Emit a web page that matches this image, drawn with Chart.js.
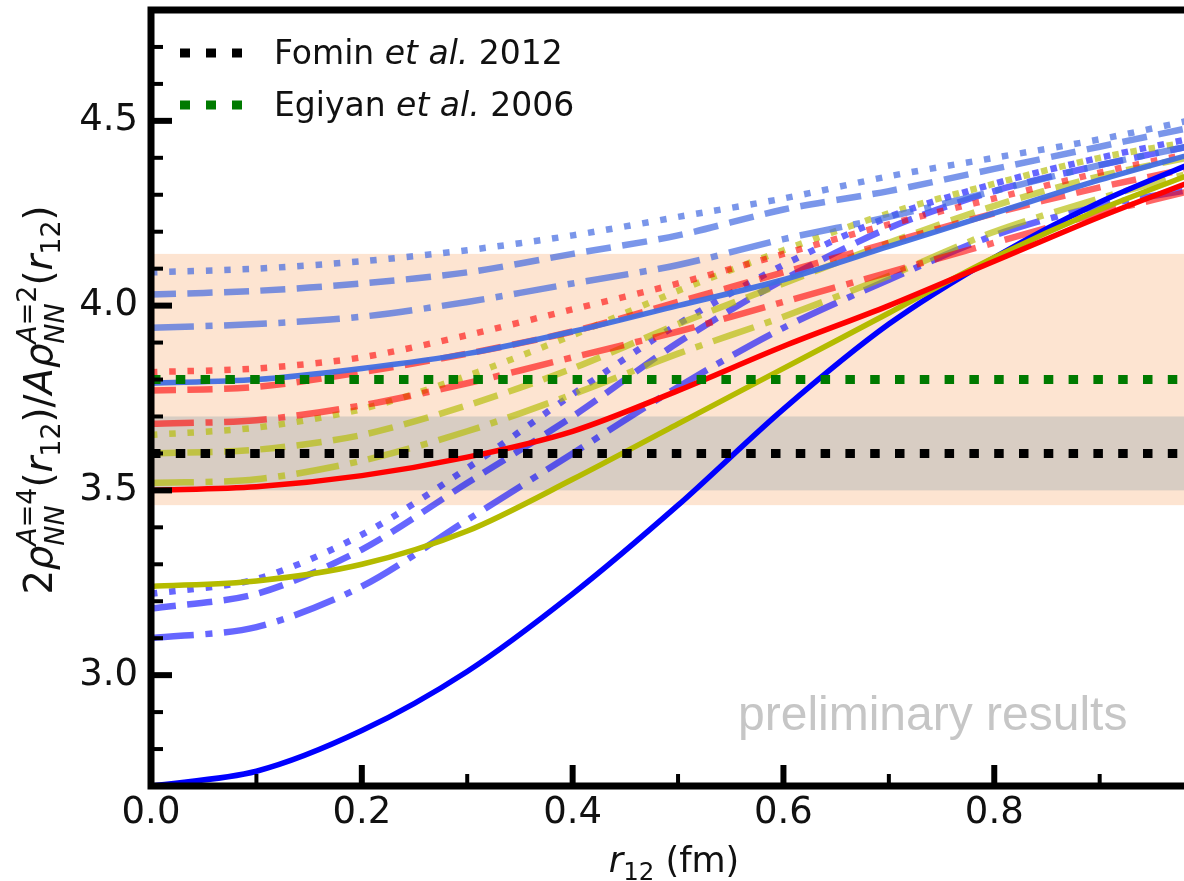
<!DOCTYPE html>
<html>
<head>
<meta charset="utf-8">
<script src="https://cdn.jsdelivr.net/npm/chart.js@4.4.0/dist/chart.umd.min.js"></script>
<style>
  html, body { margin: 0; padding: 0; background: #fff; overflow: hidden; }
  #wrap { width: 1184px; height: 881px; }
</style>
</head>
<body>
<div id="wrap"><canvas id="c" width="1184" height="881"></canvas></div>
<script>
// r12 (fm)
const r12 = [0.0, 0.1, 0.2, 0.3, 0.4, 0.5, 0.6, 0.7, 0.8, 0.9, 1.0];

// light royal blue family
const royalDotted  = [4.09, 4.10, 4.12, 4.15, 4.19, 4.24, 4.29, 4.35, 4.40, 4.45, 4.51];
const royalDashed  = [4.03, 4.04, 4.06, 4.09, 4.14, 4.19, 4.26, 4.31, 4.37, 4.43, 4.49];
const royalDashDot = [3.94, 3.95, 3.97, 4.01, 4.06, 4.11, 4.18, 4.24, 4.31, 4.38, 4.44];
const royalSolid   = [3.79, 3.80, 3.83, 3.87, 3.93, 4.00, 4.07, 4.16, 4.25, 4.34, 4.42];
// red family
const redDotted  = [3.82, 3.83, 3.86, 3.92, 3.99, 4.06, 4.14, 4.22, 4.29, 4.36, 4.42];
const redDashed  = [3.77, 3.78, 3.82, 3.87, 3.93, 4.01, 4.09, 4.17, 4.25, 4.32, 4.38];
const redDashDot = [3.68, 3.69, 3.73, 3.79, 3.86, 3.93, 4.01, 4.09, 4.17, 4.25, 4.32];
const redSolid   = [3.50, 3.51, 3.54, 3.59, 3.66, 3.77, 3.89, 4.00, 4.12, 4.24, 4.35];
// olive family
const oliveDotted  = [3.65, 3.67, 3.72, 3.81, 3.92, 4.04, 4.15, 4.25, 4.33, 4.40, 4.45];
const oliveDashed  = [3.60, 3.61, 3.65, 3.73, 3.83, 3.95, 4.06, 4.17, 4.27, 4.35, 4.41];
const oliveDashDot = [3.52, 3.53, 3.58, 3.66, 3.76, 3.87, 3.97, 4.08, 4.20, 4.29, 4.37];
const oliveSolid   = [3.24, 3.255, 3.30, 3.39, 3.53, 3.68, 3.83, 3.98, 4.13, 4.26, 4.37];
// blue family
const blueDotted  = [3.22, 3.26, 3.38, 3.56, 3.76, 3.95, 4.11, 4.24, 4.33, 4.40, 4.46];
const blueDashed  = [3.18, 3.22, 3.34, 3.52, 3.70, 3.90, 4.07, 4.21, 4.31, 4.38, 4.44];
const blueDashDot = [3.10, 3.13, 3.24, 3.42, 3.60, 3.78, 3.94, 4.07, 4.19, 4.27, 4.32];
const blueSolid   = [2.70, 2.74, 2.85, 3.01, 3.22, 3.46, 3.72, 3.95, 4.13, 4.28, 4.40];

// experiments
const fominValue = 3.60, fominBand = [3.50, 3.70];
const egiyanValue = 3.80, egiyanBand = [3.46, 4.14];

const xMajor = [0.0, 0.2, 0.4, 0.6, 0.8];
const xMinor = [0.1, 0.3, 0.5, 0.7, 0.9];
const yMajor = [3.0, 3.5, 4.0, 4.5];
const yMinor = [2.8, 2.9, 3.1, 3.2, 3.3, 3.4, 3.6, 3.7, 3.8, 3.9, 4.1, 4.2, 4.3, 4.4, 4.6, 4.7];

const DOT = [6.5, 11.8], DASH = [25, 11.5], DASHDOT = [43, 11.5, 7, 11.5], EXPDOT = [9.5, 15.3];

const mk = (vals, color, dash, width, order) => ({
  data: r12.map((r, i) => ({ x: r, y: vals[i] })),
  borderColor: color, borderWidth: width, borderDash: dash,
  pointRadius: 0, fill: false, tension: 0.3, order: order
});
const flat = (v, color) => ({
  data: [{ x: r12[0], y: v }, { x: r12[r12.length - 1], y: v }],
  borderColor: color, borderWidth: 9, borderDash: EXPDOT, pointRadius: 0, fill: false, order: 0
});

const ROY = 'rgba(65,105,225,0.7)', RED = 'rgba(255,0,0,0.6)', OLV = 'rgba(180,187,0,0.65)', BLU = 'rgba(0,0,255,0.6)';

const datasets = [
  flat(fominValue, '#000000'),
  flat(egiyanValue, '#007a00'),
  mk(royalDotted, ROY, DOT, 6.5, 2), mk(royalDashed, ROY, DASH, 6.5, 2), mk(royalDashDot, ROY, DASHDOT, 6.5, 2),
  mk(redDotted, RED, DOT, 6.5, 2), mk(redDashed, RED, DASH, 6.5, 2), mk(redDashDot, RED, DASHDOT, 6.5, 2),
  mk(oliveDotted, OLV, DOT, 6.5, 2), mk(oliveDashed, OLV, DASH, 6.5, 2), mk(oliveDashDot, OLV, DASHDOT, 6.5, 2),
  mk(blueDotted, BLU, DOT, 6.5, 2), mk(blueDashed, BLU, DASH, 6.5, 2), mk(blueDashDot, BLU, DASHDOT, 6.5, 2),
  mk(royalSolid, 'rgba(65,110,225,0.95)', [], 5.5, 1),
  mk(redSolid, '#ff0000', [], 5.5, 1),
  mk(oliveSolid, '#b4bb00', [], 5.5, 1),
  mk(blueSolid, '#0000ff', [], 5.5, 1)
];

function drawRich(ctx, segs, size, x0, y0) {
  const font = (it, s) => (it ? 'italic ' : '') + s + 'px "DejaVu Sans"';
  const runW = (runs, s) => runs.reduce((w, r) => { ctx.font = font(r.it, s); return w + ctx.measureText(r.t).width; }, 0);
  const drawRuns = (runs, s, x, y) => { for (const r of runs) { ctx.font = font(r.it, s); ctx.fillText(r.t, x, y); x += ctx.measureText(r.t).width; } };
  const ss = size * 0.7;
  const segW = seg => seg.runs ? runW(seg.runs, size) : Math.max(seg.sup ? runW(seg.sup, ss) : 0, seg.sub ? runW(seg.sub, ss) : 0);
  const total = segs.reduce((w, s) => w + segW(s), 0);
  let x = x0 - total / 2;
  ctx.textAlign = 'left';
  ctx.textBaseline = 'alphabetic';
  for (const seg of segs) {
    if (seg.runs) drawRuns(seg.runs, size, x, y0);
    else {
      if (seg.sup) drawRuns(seg.sup, ss, x, y0 - size * 0.42);
      if (seg.sub) drawRuns(seg.sub, ss, x, y0 + size * (seg.sup ? 0.3 : 0.22));
    }
    x += segW(seg);
  }
}

const yTitle = [
  { runs: [{ t: '2' }, { t: 'ρ', it: 1 }] },
  { sup: [{ t: 'A', it: 1 }, { t: '=4' }], sub: [{ t: 'NN', it: 1 }] },
  { runs: [{ t: '(' }, { t: 'r', it: 1 }] },
  { sub: [{ t: '12' }] },
  { runs: [{ t: ')/' }, { t: 'A', it: 1 }, { t: 'ρ', it: 1 }] },
  { sup: [{ t: 'A', it: 1 }, { t: '=2' }], sub: [{ t: 'NN', it: 1 }] },
  { runs: [{ t: '(' }, { t: 'r', it: 1 }] },
  { sub: [{ t: '12' }] },
  { runs: [{ t: ')' }] }
];
const xTitle = [
  { runs: [{ t: 'r', it: 1 }] },
  { sub: [{ t: '12' }] },
  { runs: [{ t: ' (fm)' }] }
];

const decor = {
  id: 'decor',
  beforeDatasetsDraw(chart) {
    const { ctx, chartArea: a, scales: { x, y } } = chart;
    ctx.save();
    const band = (b, col) => {
      const y1 = y.getPixelForValue(b[1]), y2 = y.getPixelForValue(b[0]);
      ctx.fillStyle = col;
      ctx.fillRect(a.left, y1, a.right - a.left, y2 - y1);
    };
    band(egiyanBand, 'rgb(253,228,209)');
    band(fominBand, 'rgb(216,205,195)');
    ctx.restore();
  },
  afterDatasetsDraw(chart) {
    const { ctx, chartArea: a, scales: { x, y } } = chart;
    ctx.save();
    ctx.strokeStyle = '#000';
    ctx.setLineDash([]);
    // spines
    ctx.lineWidth = 7;
    ctx.beginPath();
    ctx.moveTo(a.left - 3.5, a.top); ctx.lineTo(a.right, a.top);
    ctx.moveTo(a.left, a.top - 3.5); ctx.lineTo(a.left, a.bottom + 3.5);
    ctx.moveTo(a.left - 3.5, a.bottom); ctx.lineTo(a.right, a.bottom);
    ctx.stroke();
    // inward ticks
    const tick = (x1, y1, x2, y2, w) => { ctx.lineWidth = w; ctx.beginPath(); ctx.moveTo(x1, y1); ctx.lineTo(x2, y2); ctx.stroke(); };
    yMajor.forEach(v => { const p = y.getPixelForValue(v); tick(a.left, p, a.left + 21, p, 6); });
    yMinor.forEach(v => { const p = y.getPixelForValue(v); tick(a.left, p, a.left + 12, p, 4); });
    xMajor.forEach(v => { const p = x.getPixelForValue(v); tick(p, a.bottom, p, a.bottom - 21, 6); });
    xMinor.forEach(v => { const p = x.getPixelForValue(v); tick(p, a.bottom, p, a.bottom - 12, 4); });

    // legend
    const legendRow = (col, yy, who, year) => {
      ctx.strokeStyle = col; ctx.lineWidth = 9; ctx.setLineDash([10, 16]);
      ctx.beginPath(); ctx.moveTo(180, yy); ctx.lineTo(243, yy); ctx.stroke();
      ctx.setLineDash([]);
      ctx.fillStyle = '#111'; ctx.textBaseline = 'alphabetic'; ctx.textAlign = 'left';
      let xx = 274;
      [[who + ' ', 0], ['et al.', 1], [' ' + year, 0]].forEach(([t, it]) => {
        ctx.font = (it ? 'italic ' : '') + '33px "DejaVu Sans"';
        ctx.fillText(t, xx, yy + 11);
        xx += ctx.measureText(t).width;
      });
    };
    legendRow('#000000', 53, 'Fomin', '2012');
    legendRow('#007a00', 105, 'Egiyan', '2006');

    // watermark
    ctx.fillStyle = '#c6c6c6';
    ctx.font = '48px "Liberation Sans"';
    ctx.fillText('preliminary results', 738, 730);

    // axis titles
    ctx.fillStyle = '#111';
    drawRich(ctx, xTitle, 35, 674, 872);
    ctx.translate(52, 400);
    ctx.rotate(-Math.PI / 2);
    drawRich(ctx, yTitle, 38.5, 0, 0);
    ctx.restore();
  }
};

new Chart(document.getElementById('c'), {
  type: 'line',
  data: { datasets: datasets },
  options: {
    responsive: false,
    devicePixelRatio: 1,
    animation: false,
    layout: { autoPadding: false, padding: { top: 10, right: 0, left: 0, bottom: 0 } },
    plugins: { legend: { display: false }, tooltip: { enabled: false } },
    scales: {
      x: {
        type: 'linear', min: 0, max: 0.98,
        afterBuildTicks: s => { s.ticks = xMajor.map(v => ({ value: v })); },
        afterFit: s => { s.height = 95; s.paddingLeft = 0; s.paddingRight = 0; },
        ticks: { callback: v => v.toFixed(1), font: { family: 'DejaVu Sans', size: 37 }, color: '#111', padding: 5, maxRotation: 0, autoSkip: false },
        grid: { display: false, drawTicks: false },
        border: { display: false }
      },
      y: {
        min: 2.70, max: 4.80,
        afterBuildTicks: s => { s.ticks = yMajor.map(v => ({ value: v })); },
        afterFit: s => { s.width = 151; s.paddingTop = 0; s.paddingBottom = 0; },
        ticks: { callback: v => v.toFixed(1), font: { family: 'DejaVu Sans', size: 37 }, color: '#111', padding: 13, autoSkip: false },
        grid: { display: false, drawTicks: false },
        border: { display: false }
      }
    }
  },
  plugins: [decor]
});
</script>
</body>
</html>
